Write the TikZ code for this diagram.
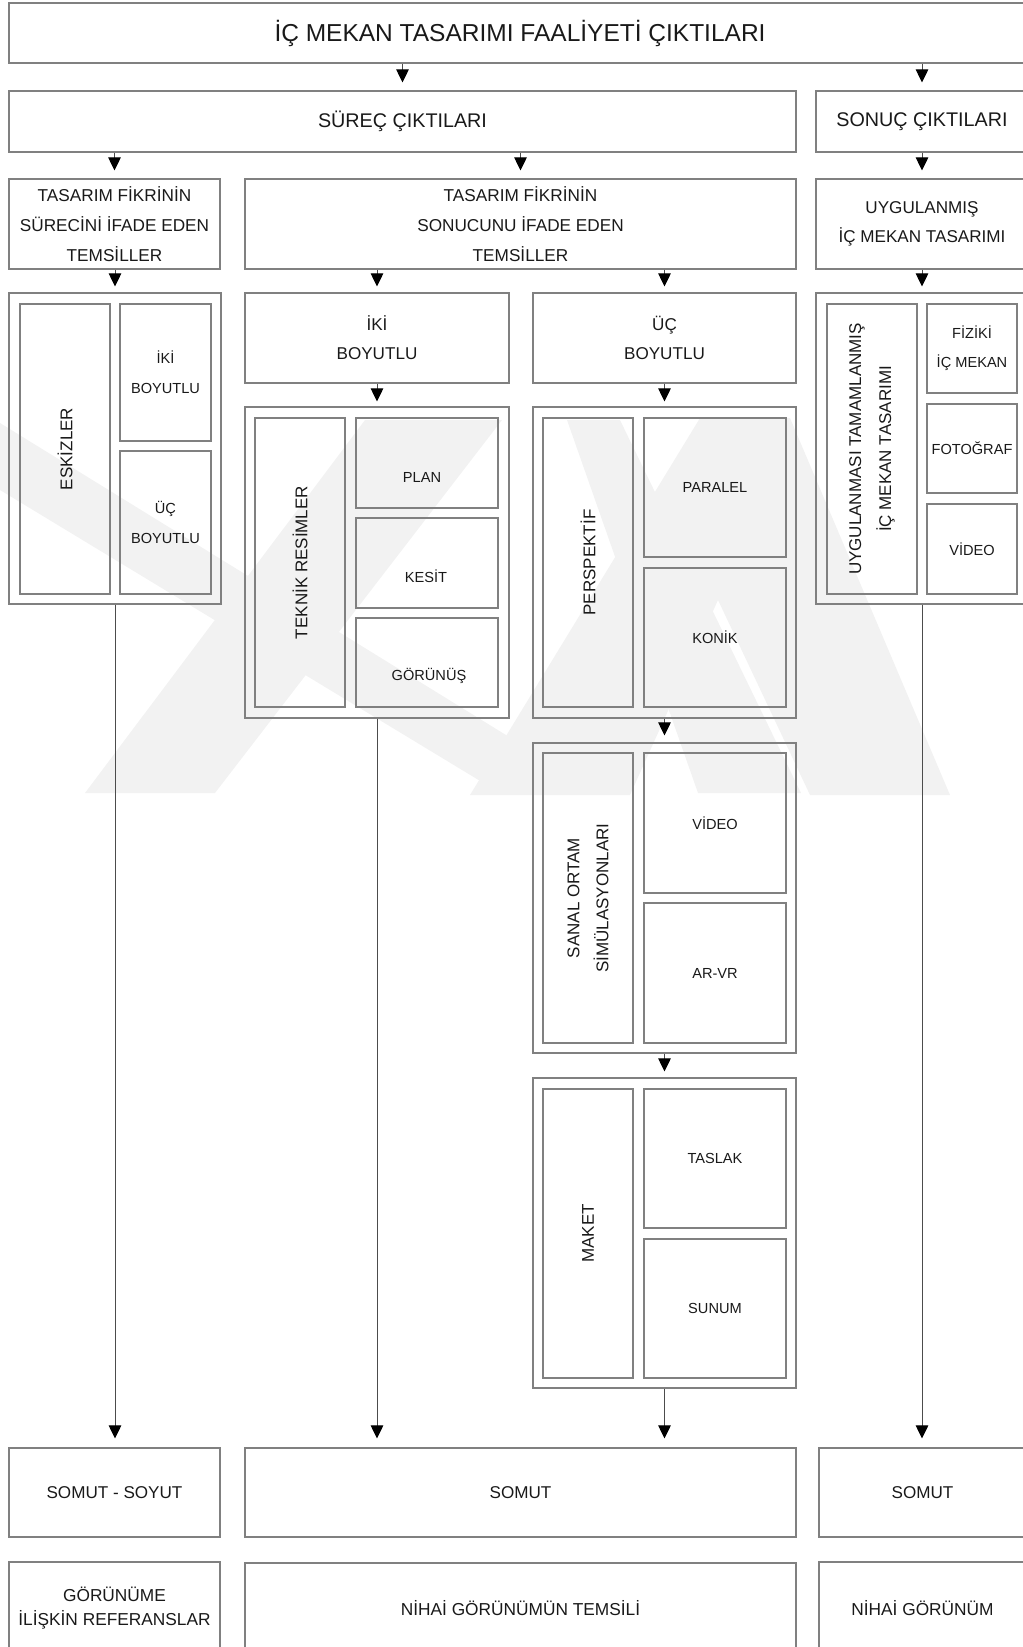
\documentclass[tikz,border=0pt]{standalone}
\usepackage{fontspec}
\setmainfont{Liberation Sans}
\usetikzlibrary{arrows.meta,calc}
\newcommand\mybox[7][]{\node[box,#1,minimum width={(#5-#3)*1pt},minimum height={(#6-#4)*1pt}] (#2) at ({(#3+#5)/2},{(#4+#6)/2}) {#7};}
\begin{document}
\begin{tikzpicture}[x=1pt,y=-1pt,
  box/.style={draw=black!50,line width=1.1pt,rectangle,inner sep=0pt,align=center,text=black!90},
  lbl/.style={inner sep=0pt,align=center,text=black!90},
  ft/.style={font=\fontsize{24.5}{29}\selectfont},
  fs/.style={font=\fontsize{19.75}{24}\selectfont},
  fm/.style={font=\fontsize{17.2}{30}\selectfont},
  fmn/.style={font=\fontsize{17.1}{29}\selectfont},
  fb/.style={font=\fontsize{17.3}{24}\selectfont},
  fsm/.style={font=\fontsize{14.6}{30}\selectfont},
  fsn/.style={font=\fontsize{14.6}{29}\selectfont},
  vl/.style={lbl,rotate=90,font=\fontsize{17}{30}\selectfont},
  vln/.style={lbl,rotate=90,font=\fontsize{17}{29}\selectfont},
  arr/.style={draw=black!70,line width=0.9pt,-{Triangle[length=13pt,width=12.5pt,color=black]}},
  wm/.style={fill=black!5}]
\useasboundingbox (0,0) rectangle (1023,1647);
\clip (0,0) rectangle (1023,1647);
% watermark
\fill[wm] (0,423) -- (600,793) -- (500,793) -- (0,490) -- cycle;
\fill[wm] (365,420) -- (502,420) -- (215,793) -- (85,793) -- cycle;
\fill[wm] (567,420) -- (620,420) -- (801,793) -- (698,793) -- cycle;
\fill[wm] (700,418) -- (790,418) -- (950,795) -- (810,795) -- (718,600) -- (630,795) -- (470,795) -- cycle;
% row 1-3
\mybox[ft]{title}{9}{3}{1031}{63}{İÇ MEKAN TASARIMI FAALİYETİ ÇIKTILARI}
\mybox[fs]{surec}{9}{91}{796}{152}{SÜREÇ ÇIKTILARI}
\mybox[fs]{sonuc}{816}{91}{1028}{152}{SONUÇ ÇIKTILARI}
\mybox[fm]{rA}{9}{179}{220}{269}{TASARIM FİKRİNİN\\SÜRECİNİ İFADE EDEN\\TEMSİLLER}
\mybox[fm]{rB}{245}{179}{796}{269}{TASARIM FİKRİNİN\\SONUCUNU İFADE EDEN\\TEMSİLLER}
\mybox[fmn]{rC}{816}{179}{1028}{269}{UYGULANMIŞ\\İÇ MEKAN TASARIMI}
% eskizler
\mybox{eskOut}{9}{293}{221}{604}{}
\mybox{eskIn}{20}{304}{110}{594}{}
\node[vl] (eskT) at (eskIn) {ESKİZLER};
\mybox[fsm]{esk2}{120}{304}{211}{441}{İKİ\\BOYUTLU}
\mybox[fsm]{esk3}{120}{451}{211}{594}{ÜÇ\\BOYUTLU}
% iki / uc boyutlu
\mybox[fmn]{iki}{245}{293}{509}{383}{İKİ\\BOYUTLU}
\mybox[fmn]{uc}{533}{293}{796}{383}{ÜÇ\\BOYUTLU}
% teknik
\mybox{tekOut}{245}{407}{509}{718}{}
\mybox{tekIn}{255}{418}{345}{707}{}
\node[vl] (tekT) at (tekIn) {TEKNİK RESİMLER};
\mybox{plan}{356}{418}{498}{508}{}
\mybox{kesit}{356}{518}{498}{608}{}
\mybox{gor}{356}{618}{498}{707}{}
\node[lbl,fsm] (planT) at (422,477) {PLAN};
\node[lbl,fsm] (kesitT) at (426,576) {KESİT};
\node[lbl,fsm] (gorT) at (429,676) {GÖRÜNÜŞ};
% perspektif
\mybox{perOut}{533}{407}{796}{718}{}
\mybox{perIn}{543}{418}{633}{707}{}
\node[vl] (perT) at (perIn) {PERSPEKTİF};
\mybox[fsm]{paralel}{644}{418}{786}{557}{PARALEL}
\mybox[fsm]{konik}{644}{568}{786}{707}{KONİK}
% uygulanmis
\mybox{uygOut}{816}{293}{1028}{604}{}
\mybox{uygIn}{827}{304}{917}{594}{}
\node[vl] (uygT) at (uygIn) {UYGULANMASI TAMAMLANMIŞ\\İÇ MEKAN TASARIMI};
\mybox[fsn]{fiz}{927}{304}{1017}{393}{FİZİKİ\\İÇ MEKAN}
\mybox[fsm]{foto}{927}{404}{1017}{493}{FOTOĞRAF}
\mybox[fsm]{vid}{927}{504}{1017}{594}{VİDEO}
% sanal
\mybox{sanOut}{533}{743}{796}{1053}{}
\mybox{sanIn}{543}{753}{633}{1043}{}
\node[vln] (sanT) at (sanIn) {SANAL ORTAM\\SİMÜLASYONLARI};
\mybox[fsm]{video2}{644}{753}{786}{893}{VİDEO}
\mybox[fsm]{arvr}{644}{903}{786}{1043}{AR-VR}
% maket
\mybox{makOut}{533}{1078}{796}{1388}{}
\mybox{makIn}{543}{1089}{633}{1378}{}
\node[vl] (makT) at (makIn) {MAKET};
\mybox[fsm]{taslak}{644}{1089}{786}{1228}{TASLAK}
\mybox[fsm]{sunum}{644}{1239}{786}{1378}{SUNUM}
% bottom rows
\mybox[fmn]{s1}{9}{1448}{220}{1537}{SOMUT - SOYUT}
\mybox[fmn]{s2}{245}{1448}{796}{1537}{SOMUT}
\mybox[fmn]{s3}{819}{1448}{1026}{1537}{SOMUT}
\mybox[fb]{n1}{9}{1562}{220}{1654}{GÖRÜNÜME\\İLİŞKİN REFERANSLAR}
\mybox[fb]{n2}{245}{1563}{796}{1654}{NİHAİ GÖRÜNÜMÜN TEMSİLİ}
\mybox[fb]{n3}{819}{1562}{1026}{1654}{NİHAİ GÖRÜNÜM}
% connectors
\draw[arr,shorten >=8pt] (title.south -| surec.north) -- (surec.north);
\draw[arr,shorten >=8pt] (title.south -| sonuc.north) -- (sonuc.north);
\draw[arr,shorten >=8pt] (surec.south -| rA.north) -- (rA.north);
\draw[arr,shorten >=8pt] (surec.south -| rB.north) -- (rB.north);
\draw[arr,shorten >=8pt] (sonuc.south -| rC.north) -- (rC.north);
\draw[arr,shorten >=6pt] (rA.south -| eskOut.north) -- (eskOut.north);
\draw[arr,shorten >=6pt] (rB.south -| iki.north) -- (iki.north);
\draw[arr,shorten >=6pt] (rB.south -| uc.north) -- (uc.north);
\draw[arr,shorten >=6pt] (rC.south -| uygOut.north) -- (uygOut.north);
\draw[arr,shorten >=5pt] (iki.south) -- (tekOut.north);
\draw[arr,shorten >=5pt] (uc.south) -- (perOut.north);
\draw[arr,shorten >=7pt] (perOut.south) -- (sanOut.north);
\draw[arr,shorten >=6pt] (sanOut.south) -- (makOut.north);
\draw[arr,shorten >=9pt] (eskOut.south) -- (eskOut.south |- s1.north);
\draw[arr,shorten >=9pt] (tekOut.south) -- (tekOut.south |- s2.north);
\draw[arr,shorten >=9pt] (makOut.south) -- (makOut.south |- s2.north);
\draw[arr,shorten >=9pt] (uygOut.south) -- (uygOut.south |- s3.north);
\end{tikzpicture}
\end{document}
